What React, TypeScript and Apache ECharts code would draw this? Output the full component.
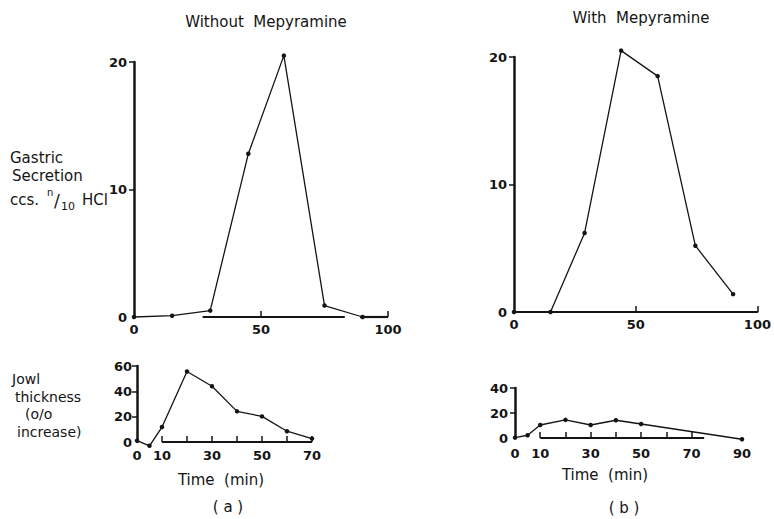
import React, { useEffect, useRef } from "react";
import * as echarts from "echarts";

// Gastric secretion (ccs. n/10 HCl) vs time (min)
const gastricTimeA = [0, 15, 30, 45, 59, 75, 90];
const gastricA = [0, 0.1, 0.5, 12.8, 20.5, 0.9, 0];
const gastricTimeB = [0, 15, 29, 44, 59, 74.5, 90];
const gastricB = [0, 0, 6.2, 20.5, 18.5, 5.2, 1.4];

// Jowl thickness (% increase) vs time (min)
const jowlTimeA = [0, 5, 10, 20, 30, 40, 50, 60, 70];
const jowlA = [1.1, -3, 11.8, 55.7, 44, 24.2, 20.2, 8.5, 2.7];
const jowlTimeB = [0, 5, 10, 20, 30, 40, 50, 90];
const jowlB = [0.3, 2.2, 10.4, 14.5, 10.4, 14.2, 11.2, -1];

// Tick / label values
const gastricXLabels = [0, 50, 100];
const gastricXTicks = [50, 100];
const gastricYLabels = [0, 10, 20];
const gastricYTicks = [10, 20];
const jowlXLabelsA = [0, 10, 30, 50, 70];
const jowlXTicksA = [10, 20, 30, 40, 50, 60, 70];
const jowlYLabelsA = [0, 20, 40, 60];
const jowlYTicksA = [20, 40, 60];
const jowlXLabelsB = [0, 10, 30, 50, 70, 90];
const jowlXTicksB = [10, 20, 30, 40, 50, 60, 70];
const jowlYLabelsB = [0, 20, 40];
const jowlYTicksB = [20, 40];

const INK = "#141414";
const FONT = "DejaVu Sans";

const pairs = (xs: number[], ys: number[]) => xs.map((x, i) => [x, ys[i]]);

function xAxis(gridIndex: number, max: number, labels: number[], ticks: number[], margin: number, showLine: boolean) {
  return {
    type: "value",
    gridIndex,
    min: 0,
    max,
    splitLine: { show: false },
    axisLine: { show: showLine, onZero: false, lineStyle: { color: INK, width: 2 } },
    axisTick: { show: true, inside: true, length: 6, customValues: ticks, lineStyle: { color: INK, width: 1.5 } },
    axisLabel: { customValues: labels, margin, color: INK, fontFamily: FONT, fontSize: 13, fontWeight: "bold" },
  };
}

function yAxis(gridIndex: number, max: number, labels: number[], ticks: number[], margin: number) {
  return {
    type: "value",
    gridIndex,
    min: 0,
    max,
    splitLine: { show: false },
    axisLine: { show: true, onZero: false, lineStyle: { color: INK, width: 2.5 } },
    axisTick: { show: true, inside: false, length: 5, customValues: ticks, lineStyle: { color: INK, width: 1.5 } },
    axisLabel: { customValues: labels, margin, color: INK, fontFamily: FONT, fontSize: 13, fontWeight: "bold" },
  };
}

function lineSeries(idx: number, xs: number[], ys: number[], axisSegments?: number[][]) {
  const s: any = {
    type: "line",
    xAxisIndex: idx,
    yAxisIndex: idx,
    data: pairs(xs, ys),
    symbol: "circle",
    symbolSize: 4.5,
    clip: false,
    lineStyle: { color: INK, width: 1.3 },
    itemStyle: { color: INK },
  };
  if (axisSegments) {
    s.markLine = {
      silent: true,
      symbol: ["none", "none"],
      label: { show: false },
      lineStyle: { color: INK, width: 2.2, type: "solid" },
      data: axisSegments.map((seg) => [{ coord: [seg[0], 0] }, { coord: [seg[1], 0] }]),
    };
  }
  return s;
}

function txt(text: string, x: number, y: number, fontSize = 15, align = "left") {
  return {
    type: "text",
    x,
    y,
    style: { text, fill: INK, font: `${fontSize}px "${FONT}"`, align, verticalAlign: "middle" },
  };
}

export default function App() {
  const ref = useRef<HTMLDivElement>(null);
  useEffect(() => {
    document.body.style.margin = "0";
    if (!ref.current) return;
    const chart = echarts.init(ref.current, undefined, { renderer: "svg" });
    chart.setOption({
      animation: false,
      backgroundColor: "#ffffff",
      grid: [
        { left: 134, top: 62, width: 254, height: 255 },
        { left: 514, top: 57, width: 254, height: 255 },
        { left: 137, top: 366, width: 175, height: 76 },
        { left: 515, top: 388, width: 227, height: 50 },
      ],
      xAxis: [
        xAxis(0, 100, gastricXLabels, gastricXTicks, 6, false),
        xAxis(1, 100, gastricXLabels, gastricXTicks, 6, true),
        xAxis(2, 70, jowlXLabelsA, jowlXTicksA, 7, false),
        xAxis(3, 90, jowlXLabelsB, jowlXTicksB, 9, false),
      ],
      yAxis: [
        yAxis(0, 20, gastricYLabels, gastricYTicks, 7),
        yAxis(1, 20, gastricYLabels, gastricYTicks, 7),
        yAxis(2, 60, jowlYLabelsA, jowlYTicksA, 5),
        yAxis(3, 40, jowlYLabelsB, jowlYTicksB, 7),
      ],
      series: [
        lineSeries(0, gastricTimeA, gastricA, [[27, 83], [89, 100]]),
        lineSeries(1, gastricTimeB, gastricB),
        lineSeries(2, jowlTimeA, jowlA, [[10, 70]]),
        lineSeries(3, jowlTimeB, jowlB, [[10, 75]]),
      ],
      graphic: [
        txt("Without  Mepyramine", 266, 22, 15, "center"),
        txt("With  Mepyramine", 641, 18, 15, "center"),
        txt("Gastric", 10, 158),
        txt("Secretion", 12, 176),
        txt("ccs.", 10, 200),
        txt("n", 47, 192, 10),
        txt("/", 54, 201, 17),
        txt("10", 61, 206, 11),
        txt("HCl", 82, 200),
        txt("Jowl", 12, 379, 14),
        txt("thickness", 15, 397, 14),
        txt("(o/o", 25, 414, 14),
        txt("increase)", 17, 432, 14),
        txt("Time  (min)", 221, 480, 15, "center"),
        txt("Time  (min)", 605, 475, 15, "center"),
        txt("( a )", 228, 507, 15, "center"),
        txt("( b )", 624, 508, 15, "center"),
      ],
    });
    return () => chart.dispose();
  }, []);
  return <div ref={ref} style={{ width: 774, height: 519 }} />;
}
